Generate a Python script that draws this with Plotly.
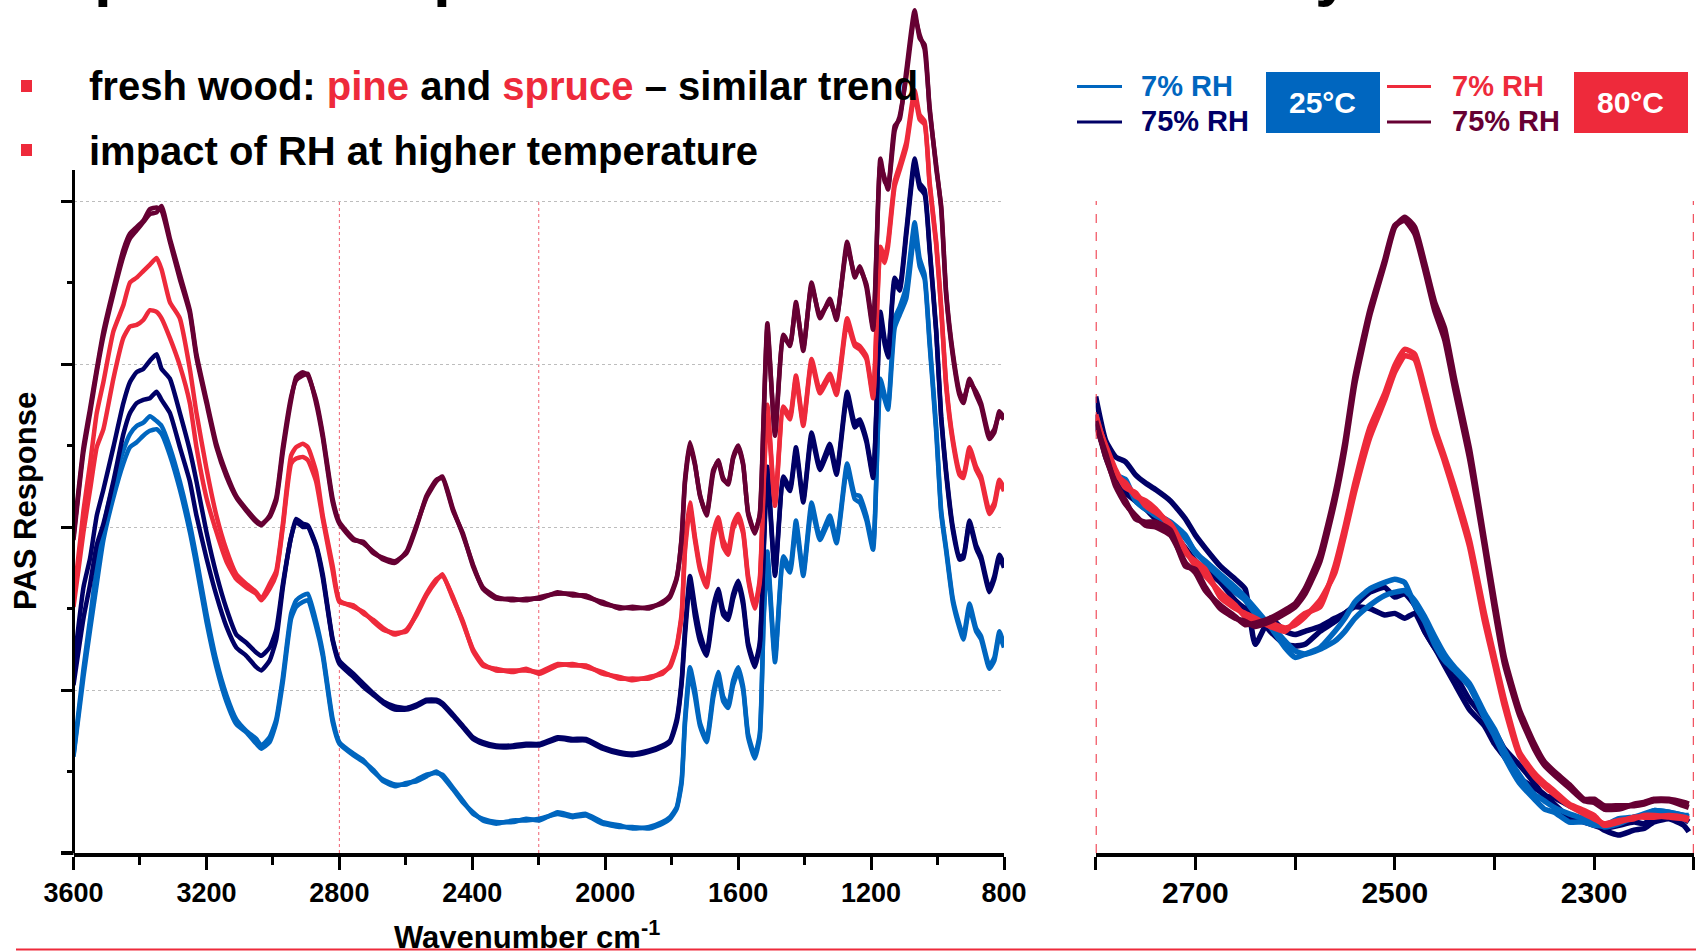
import plotly.graph_objects as go

W, H = 1696, 951

# ---------------- data (arbitrary PAS units) ----------------
wn_left = [3600, 3570, 3550, 3530, 3510, 3480, 3450, 3430, 3410, 3390, 3370, 3350, 3335, 3310, 3280, 3250,
           3230, 3200, 3170, 3140, 3110, 3080, 3050, 3035, 3010, 2990, 2970, 2945, 2930, 2910, 2895, 2870,
           2850, 2820, 2800,
           2758, 2728, 2698, 2668, 2633, 2598, 2568, 2538, 2508, 2490, 2458, 2428, 2398, 2368, 2328, 2278,
           2238, 2198, 2143, 2098, 2058, 2008, 1958, 1918, 1868, 1828,
           1805, 1785, 1770, 1760, 1745, 1730, 1715, 1695, 1675, 1660, 1645, 1630, 1615, 1600, 1585, 1570,
           1550, 1535, 1523, 1512, 1489, 1464, 1444, 1426, 1404, 1379, 1354, 1324, 1304, 1272, 1249, 1234,
           1214, 1194, 1172, 1159, 1149, 1129, 1114, 1094, 1069, 1054, 1039, 1024, 1004, 989, 974, 954,
           934, 922, 904, 884, 869, 844, 829, 814, 800]

maroon_pine = [1.94, 2.49, 2.73, 2.97, 3.20, 3.46, 3.70, 3.80, 3.84, 3.88, 3.95, 3.96, 3.94, 3.75, 3.52, 3.31,
               3.04, 2.76, 2.49, 2.31, 2.18, 2.10, 2.03, 2.01, 2.07, 2.18, 2.49, 2.80, 2.90, 2.93, 2.94, 2.76,
               2.55, 2.15, 2.02,
               1.92, 1.91, 1.84, 1.81, 1.79, 1.84, 2.00, 2.19, 2.29, 2.30, 2.10, 1.96, 1.76, 1.63, 1.57, 1.55,
               1.56, 1.56, 1.60, 1.58, 1.58, 1.53, 1.51, 1.50, 1.51, 1.53,
               1.57, 1.68, 1.94, 2.29, 2.52, 2.39, 2.19, 2.08, 2.35, 2.40, 2.29, 2.27, 2.43, 2.50, 2.39, 2.08,
               1.96, 2.08, 2.70, 3.25, 2.56, 3.18, 3.11, 3.38, 3.08, 3.50, 3.28, 3.40, 3.27, 3.75, 3.53, 3.60,
               3.47, 3.21, 4.26, 4.12, 4.09, 4.46, 4.50, 4.80, 5.17, 5.00, 4.96, 4.56, 4.22, 3.95, 3.42, 3.05,
               2.81, 2.76, 2.91, 2.81, 2.74, 2.54, 2.58, 2.71, 2.67]
maroon_spruce = [1.92, 2.46, 2.70, 2.95, 3.17, 3.43, 3.66, 3.77, 3.82, 3.87, 3.92, 3.93, 3.97, 3.77, 3.55, 3.33,
                 3.06, 2.78, 2.51, 2.33, 2.19, 2.11, 2.04, 2.02, 2.06, 2.16, 2.46, 2.78, 2.92, 2.95, 2.93, 2.78,
                 2.57, 2.17, 2.03,
                 1.93, 1.90, 1.85, 1.80, 1.78, 1.85, 2.01, 2.18, 2.28, 2.31, 2.11, 1.95, 1.77, 1.62, 1.56, 1.56,
                 1.55, 1.57, 1.59, 1.59, 1.57, 1.54, 1.50, 1.51, 1.50, 1.54,
                 1.58, 1.69, 1.93, 2.27, 2.50, 2.38, 2.20, 2.07, 2.33, 2.41, 2.30, 2.26, 2.42, 2.49, 2.38, 2.09,
                 1.97, 2.07, 2.68, 3.22, 2.58, 3.16, 3.12, 3.36, 3.10, 3.48, 3.30, 3.38, 3.29, 3.72, 3.55, 3.58,
                 3.49, 3.23, 4.22, 4.14, 4.07, 4.43, 4.52, 4.76, 5.13, 5.02, 4.93, 4.58, 4.20, 3.97, 3.44, 3.07,
                 2.83, 2.78, 2.89, 2.83, 2.76, 2.56, 2.60, 2.69, 2.66]
red_pine = [1.55, 2.10, 2.39, 2.70, 2.89, 3.20, 3.36, 3.50, 3.53, 3.57, 3.61, 3.65, 3.58, 3.38, 3.28, 2.97,
            2.70, 2.36, 2.07, 1.86, 1.71, 1.65, 1.60, 1.56, 1.65, 1.73, 2.02, 2.44, 2.49, 2.51, 2.49, 2.34,
            2.07, 1.76, 1.55,
            1.51, 1.48, 1.42, 1.37, 1.35, 1.36, 1.47, 1.59, 1.68, 1.70, 1.57, 1.41, 1.25, 1.16, 1.12, 1.12,
            1.12, 1.11, 1.16, 1.15, 1.15, 1.10, 1.08, 1.06, 1.08, 1.10,
            1.15, 1.27, 1.47, 1.88, 2.15, 1.94, 1.76, 1.65, 1.96, 2.06, 1.92, 1.86, 2.02, 2.08, 1.98, 1.70,
            1.51, 1.68, 2.29, 2.75, 2.15, 2.74, 2.68, 2.93, 2.64, 3.03, 2.84, 2.94, 2.83, 3.28, 3.13, 3.11,
            3.05, 2.81, 3.72, 3.65, 3.75, 4.12, 4.22, 4.36, 4.68, 4.53, 4.49, 4.12, 3.75, 3.35, 2.88, 2.54,
            2.34, 2.32, 2.49, 2.37, 2.31, 2.10, 2.15, 2.29, 2.24]
red_spruce = [1.51, 1.97, 2.23, 2.49, 2.60, 2.91, 3.16, 3.23, 3.24, 3.27, 3.33, 3.32, 3.28, 3.16, 2.99, 2.76,
              2.49, 2.18, 1.97, 1.79, 1.68, 1.63, 1.59, 1.55, 1.62, 1.71, 2.00, 2.39, 2.42, 2.43, 2.41, 2.28,
              2.05, 1.73, 1.54,
              1.52, 1.47, 1.43, 1.38, 1.34, 1.37, 1.46, 1.58, 1.67, 1.71, 1.56, 1.42, 1.24, 1.15, 1.13, 1.11,
              1.13, 1.10, 1.15, 1.16, 1.14, 1.11, 1.07, 1.07, 1.07, 1.11,
              1.14, 1.26, 1.45, 1.85, 2.12, 1.92, 1.74, 1.63, 1.92, 2.03, 1.88, 1.83, 1.99, 2.05, 1.96, 1.68,
              1.50, 1.66, 2.26, 2.72, 2.13, 2.72, 2.66, 2.91, 2.62, 3.01, 2.82, 2.92, 2.81, 3.25, 3.11, 3.09,
              3.03, 2.79, 3.69, 3.62, 3.72, 4.09, 4.19, 4.33, 4.65, 4.50, 4.47, 4.10, 3.73, 3.33, 2.86, 2.52,
              2.32, 2.30, 2.47, 2.35, 2.29, 2.08, 2.13, 2.27, 2.22]
navy_pine = [1.13, 1.63, 1.81, 2.07, 2.23, 2.49, 2.76, 2.89, 2.95, 2.97, 3.02, 3.06, 2.97, 2.91, 2.70, 2.47,
             2.28, 1.97, 1.71, 1.50, 1.34, 1.29, 1.23, 1.21, 1.26, 1.37, 1.65, 1.94, 2.05, 2.02, 2.01, 1.89,
             1.71, 1.31, 1.18,
             1.10, 1.04, 0.98, 0.93, 0.90, 0.89, 0.91, 0.94, 0.94, 0.92, 0.85, 0.78, 0.71, 0.68, 0.66, 0.66,
             0.67, 0.67, 0.71, 0.70, 0.70, 0.65, 0.62, 0.61, 0.63, 0.66,
             0.69, 0.82, 1.06, 1.37, 1.70, 1.51, 1.35, 1.23, 1.51, 1.62, 1.49, 1.45, 1.59, 1.67, 1.55, 1.29,
             1.16, 1.29, 1.88, 2.37, 1.72, 2.31, 2.24, 2.49, 2.17, 2.58, 2.37, 2.51, 2.34, 2.83, 2.64, 2.66,
             2.54, 2.32, 3.32, 3.15, 3.06, 3.53, 3.48, 3.82, 4.26, 4.11, 4.07, 3.72, 3.21, 2.68, 2.34, 2.00,
             1.82, 1.83, 2.04, 1.89, 1.82, 1.62, 1.70, 1.83, 1.77]
navy_spruce = [1.03, 1.44, 1.65, 1.89, 2.02, 2.28, 2.57, 2.70, 2.76, 2.78, 2.79, 2.83, 2.78, 2.70, 2.49, 2.28,
               2.07, 1.81, 1.58, 1.39, 1.26, 1.21, 1.14, 1.12, 1.18, 1.31, 1.63, 1.94, 2.03, 2.00, 2.00, 1.88,
               1.69, 1.30, 1.16,
               1.08, 1.02, 0.97, 0.92, 0.88, 0.88, 0.90, 0.93, 0.93, 0.91, 0.84, 0.77, 0.70, 0.67, 0.65, 0.65,
               0.66, 0.66, 0.70, 0.69, 0.69, 0.64, 0.61, 0.60, 0.62, 0.65,
               0.68, 0.80, 1.04, 1.33, 1.66, 1.45, 1.30, 1.21, 1.47, 1.60, 1.46, 1.43, 1.56, 1.65, 1.52, 1.27,
               1.14, 1.27, 1.85, 2.34, 1.70, 2.28, 2.22, 2.46, 2.15, 2.55, 2.35, 2.48, 2.32, 2.80, 2.61, 2.64,
               2.52, 2.30, 3.28, 3.12, 3.04, 3.50, 3.45, 3.79, 4.23, 4.08, 4.04, 3.70, 3.19, 2.66, 2.32, 1.98,
               1.80, 1.81, 2.02, 1.87, 1.80, 1.60, 1.68, 1.81, 1.75]
blue_pine = [0.60, 1.13, 1.44, 1.76, 2.00, 2.26, 2.47, 2.57, 2.62, 2.64, 2.68, 2.65, 2.62, 2.49, 2.28, 2.02,
             1.81, 1.47, 1.18, 0.97, 0.82, 0.75, 0.70, 0.66, 0.71, 0.82, 1.08, 1.47, 1.55, 1.58, 1.59, 1.42,
             1.23, 0.82, 0.68,
             0.61, 0.57, 0.50, 0.45, 0.42, 0.42, 0.45, 0.48, 0.49, 0.48, 0.40, 0.32, 0.24, 0.21, 0.19, 0.19,
             0.21, 0.20, 0.25, 0.23, 0.24, 0.19, 0.17, 0.15, 0.16, 0.19,
             0.22, 0.28, 0.45, 0.82, 1.14, 1.00, 0.80, 0.70, 0.98, 1.11, 0.96, 0.91, 1.06, 1.14, 1.02, 0.73,
             0.60, 0.73, 1.47, 1.85, 1.20, 1.82, 1.75, 2.04, 1.72, 2.15, 1.94, 2.07, 1.92, 2.39, 2.20, 2.19,
             2.07, 1.89, 2.91, 2.81, 2.74, 3.28, 3.35, 3.48, 3.87, 3.65, 3.55, 3.15, 2.61, 2.10, 1.87, 1.56,
             1.40, 1.33, 1.53, 1.38, 1.33, 1.15, 1.20, 1.36, 1.28]
blue_spruce = [0.59, 1.08, 1.37, 1.65, 1.92, 2.18, 2.39, 2.49, 2.52, 2.56, 2.59, 2.60, 2.57, 2.44, 2.23, 1.97,
               1.76, 1.42, 1.14, 0.93, 0.79, 0.74, 0.67, 0.64, 0.68, 0.80, 1.05, 1.44, 1.51, 1.54, 1.55, 1.39,
               1.21, 0.80, 0.67,
               0.60, 0.56, 0.51, 0.44, 0.41, 0.43, 0.44, 0.47, 0.50, 0.47, 0.39, 0.31, 0.25, 0.20, 0.18, 0.20,
               0.20, 0.21, 0.24, 0.22, 0.23, 0.18, 0.16, 0.16, 0.15, 0.18,
               0.21, 0.27, 0.43, 0.79, 1.10, 0.96, 0.78, 0.68, 0.95, 1.08, 0.93, 0.89, 1.03, 1.11, 1.00, 0.71,
               0.58, 0.71, 1.44, 1.80, 1.17, 1.78, 1.72, 2.00, 1.70, 2.11, 1.92, 2.04, 1.90, 2.36, 2.17, 2.15,
               2.04, 1.86, 2.86, 2.78, 2.72, 3.22, 3.30, 3.40, 3.80, 3.60, 3.52, 3.12, 2.58, 2.08, 1.85, 1.54,
               1.38, 1.31, 1.50, 1.36, 1.31, 1.13, 1.18, 1.33, 1.26]

wn_right = [2800, 2790, 2780, 2770, 2760, 2750, 2740, 2725, 2710, 2700, 2690, 2675, 2660, 2650, 2640, 2625,
            2610, 2600, 2590, 2575, 2560, 2550, 2540, 2525, 2510, 2500, 2490, 2480, 2470, 2460, 2450, 2440,
            2425, 2410, 2400, 2390, 2375, 2360, 2350, 2340, 2325, 2310, 2300, 2290, 2275, 2260, 2250, 2240,
            2225, 2210, 2205]

r_maroon_pine = [2.65, 2.43, 2.27, 2.16, 2.05, 2.03, 2.03, 1.98, 1.76, 1.74, 1.63, 1.50, 1.44, 1.42, 1.39, 1.42,
                 1.47, 1.51, 1.59, 1.79, 2.16, 2.48, 2.88, 3.30, 3.62, 3.84, 3.90, 3.84, 3.62, 3.38, 3.22, 2.91,
                 2.48, 1.92, 1.55, 1.20, 0.88, 0.67, 0.56, 0.50, 0.42, 0.33, 0.33, 0.29, 0.29, 0.29, 0.30, 0.32,
                 0.32, 0.29, 0.28]
r_maroon_spruce = [2.63, 2.45, 2.25, 2.14, 2.07, 2.01, 2.00, 1.95, 1.78, 1.72, 1.61, 1.52, 1.45, 1.40, 1.41, 1.44,
                   1.49, 1.53, 1.62, 1.83, 2.20, 2.52, 2.92, 3.33, 3.64, 3.85, 3.88, 3.80, 3.58, 3.33, 3.15, 2.85,
                   2.42, 1.88, 1.50, 1.16, 0.85, 0.64, 0.54, 0.48, 0.40, 0.32, 0.31, 0.27, 0.27, 0.30, 0.31, 0.33,
                   0.33, 0.31, 0.30]
r_red_pine = [2.69, 2.48, 2.32, 2.27, 2.19, 2.16, 2.11, 2.00, 1.84, 1.79, 1.74, 1.57, 1.50, 1.47, 1.44, 1.39,
              1.36, 1.42, 1.47, 1.51, 1.76, 2.00, 2.27, 2.61, 2.82, 2.99, 3.09, 3.06, 2.85, 2.61, 2.43, 2.24,
              1.92, 1.47, 1.20, 0.94, 0.62, 0.49, 0.43, 0.38, 0.30, 0.26, 0.23, 0.17, 0.19, 0.22, 0.22, 0.22,
              0.23, 0.22, 0.21]
r_red_spruce = [2.66, 2.50, 2.35, 2.24, 2.21, 2.13, 2.09, 2.02, 1.86, 1.76, 1.70, 1.60, 1.52, 1.45, 1.42, 1.41,
                1.38, 1.40, 1.45, 1.55, 1.72, 1.96, 2.22, 2.55, 2.78, 2.95, 3.05, 3.03, 2.82, 2.58, 2.40, 2.20,
                1.88, 1.42, 1.16, 0.90, 0.60, 0.47, 0.41, 0.36, 0.29, 0.24, 0.21, 0.18, 0.20, 0.21, 0.23, 0.23,
                0.22, 0.21, 0.20]
r_navy_pine = [2.80, 2.53, 2.43, 2.40, 2.32, 2.27, 2.23, 2.16, 2.05, 1.95, 1.87, 1.76, 1.68, 1.62, 1.28, 1.44,
               1.36, 1.34, 1.36, 1.39, 1.44, 1.47, 1.51, 1.50, 1.46, 1.47, 1.44, 1.47, 1.36, 1.26, 1.18, 1.10,
               0.94, 0.83, 0.75, 0.64, 0.54, 0.43, 0.35, 0.34, 0.29, 0.25, 0.19, 0.14, 0.11, 0.14, 0.15, 0.19,
               0.21, 0.17, 0.13]
r_navy_spruce = [2.69, 2.43, 2.29, 2.21, 2.16, 2.11, 2.05, 1.98, 1.87, 1.79, 1.74, 1.66, 1.55, 1.50, 1.47, 1.36,
                 1.28, 1.27, 1.28, 1.36, 1.42, 1.47, 1.52, 1.60, 1.63, 1.57, 1.59, 1.52, 1.36, 1.26, 1.15, 1.04,
                 0.88, 0.78, 0.67, 0.59, 0.46, 0.40, 0.36, 0.30, 0.22, 0.19, 0.17, 0.15, 0.17, 0.19, 0.18, 0.22,
                 0.23, 0.21, 0.19]
r_blue_pine = [2.69, 2.48, 2.32, 2.29, 2.16, 2.11, 2.08, 2.03, 1.95, 1.84, 1.79, 1.71, 1.63, 1.57, 1.50, 1.39,
               1.26, 1.20, 1.22, 1.26, 1.36, 1.44, 1.54, 1.62, 1.66, 1.68, 1.66, 1.52, 1.42, 1.28, 1.18, 1.12,
               1.02, 0.83, 0.72, 0.59, 0.43, 0.33, 0.27, 0.25, 0.19, 0.19, 0.17, 0.17, 0.21, 0.22, 0.23, 0.26,
               0.25, 0.23, 0.23]
r_blue_spruce = [2.64, 2.45, 2.33, 2.27, 2.18, 2.12, 2.07, 2.02, 1.93, 1.85, 1.78, 1.69, 1.60, 1.55, 1.47, 1.40,
                 1.30, 1.24, 1.22, 1.25, 1.30, 1.36, 1.44, 1.52, 1.58, 1.60, 1.61, 1.55, 1.45, 1.33, 1.22, 1.14,
                 1.04, 0.86, 0.76, 0.63, 0.48, 0.36, 0.32, 0.28, 0.24, 0.21, 0.19, 0.16, 0.18, 0.22, 0.24, 0.26,
                 0.25, 0.23, 0.22]

left_ticks = [3600, 3200, 2800, 2400, 2000, 1600, 1200, 800]
left_minor = [3400, 3000, 2600, 2200, 1800, 1400, 1000]
right_ticks = [2800, 2700, 2600, 2500, 2400, 2300, 2200]
right_ticktext = [" ", "2700", " ", "2500", " ", "2300", " "]
marker_lines = [2800, 2200]

for arr in [maroon_pine, maroon_spruce, red_pine, red_spruce, navy_pine, navy_spruce, blue_pine, blue_spruce]:
    assert len(arr) == len(wn_left), len(arr)
for arr in [r_maroon_pine, r_maroon_spruce, r_red_pine, r_red_spruce, r_navy_pine, r_navy_spruce,
            r_blue_pine, r_blue_spruce]:
    assert len(arr) == len(wn_right), len(arr)

# ---------------- style ----------------
BLUE = "#0066BF"
NAVY = "#000066"
RED = "#EE2A3B"
MAROON = "#660033"
FONT = "Liberation Sans, Arial, Helvetica, sans-serif"


def px(x):
    return x / W


def py(y):
    return 1 - y / H


X0, X1 = 73.5, 1004.0        # left plot horizontal extent (px)
XR0, XR1 = 1095.7, 1693.8    # right plot horizontal extent (px)
YBOT = 853.0                 # x-axis line (px)
UNIT = 163.0                 # px per response unit
YMAX = YBOT / UNIT

fig = go.Figure()

left_series = [
    ("pine 25°C 7% RH", blue_pine, BLUE), ("spruce 25°C 7% RH", blue_spruce, BLUE),
    ("pine 25°C 75% RH", navy_pine, NAVY), ("spruce 25°C 75% RH", navy_spruce, NAVY),
    ("pine 80°C 7% RH", red_pine, RED), ("spruce 80°C 7% RH", red_spruce, RED),
    ("pine 80°C 75% RH", maroon_pine, MAROON), ("spruce 80°C 75% RH", maroon_spruce, MAROON),
]
for name, ys, col in left_series:
    fig.add_trace(go.Scatter(x=wn_left, y=ys, name=name, mode="lines",
                             line=dict(color=col, width=4.5, shape="spline", smoothing=0.5),
                             xaxis="x", yaxis="y", showlegend=False, hoverinfo="skip"))

right_series = [
    ("pine 25°C 75% RH", r_navy_pine, NAVY), ("spruce 25°C 75% RH", r_navy_spruce, NAVY),
    ("pine 25°C 7% RH", r_blue_pine, BLUE), ("spruce 25°C 7% RH", r_blue_spruce, BLUE),
    ("pine 80°C 7% RH", r_red_pine, RED), ("spruce 80°C 7% RH", r_red_spruce, RED),
    ("pine 80°C 75% RH", r_maroon_pine, MAROON), ("spruce 80°C 75% RH", r_maroon_spruce, MAROON),
]
for name, ys, col in right_series:
    fig.add_trace(go.Scatter(x=wn_right, y=ys, name=name, mode="lines",
                             line=dict(color=col, width=5.5, shape="spline", smoothing=0.5),
                             xaxis="x2", yaxis="y2", showlegend=False, hoverinfo="skip"))

shapes = []
shapes.append(dict(type="line", xref="paper", yref="y", x0=px(X0), x1=px(X0), y0=0, y1=4.19,
                   line=dict(color="black", width=3)))
shapes.append(dict(type="line", xref="paper", yref="paper", x0=px(61), x1=px(X0), y0=py(YBOT), y1=py(YBOT),
                   line=dict(color="black", width=4)))
for v in marker_lines:
    shapes.append(dict(type="line", xref="x", yref="y", x0=v, x1=v, y0=0, y1=4, layer="below",
                       line=dict(color="#F06070", width=1, dash="dot")))
    shapes.append(dict(type="line", xref="x2", yref="y2", x0=v, x1=v, y0=0, y1=4,
                       line=dict(color=RED, width=2, dash="dash")))
for (ya, yb) in [(80, 92), (144, 156)]:
    shapes.append(dict(type="rect", xref="paper", yref="paper", x0=px(21), x1=px(32), y0=py(yb), y1=py(ya),
                       fillcolor=RED, line=dict(width=0)))
for (xa, xb, y, col) in [(1077, 1122, 86.5, BLUE), (1077, 1122, 122, NAVY),
                         (1387, 1431, 86.5, RED), (1387, 1431, 122, MAROON)]:
    shapes.append(dict(type="line", xref="paper", yref="paper", x0=px(xa), x1=px(xb), y0=py(y), y1=py(y),
                       line=dict(color=col, width=3)))
for (xa, xb, col) in [(1266, 1380, BLUE), (1574, 1688, RED)]:
    shapes.append(dict(type="rect", xref="paper", yref="paper", x0=px(xa), x1=px(xb), y0=py(133), y1=py(72),
                       fillcolor=col, line=dict(width=0)))
shapes.append(dict(type="line", xref="paper", yref="paper", x0=px(16), x1=1, y0=py(949.5), y1=py(949.5),
                   line=dict(color=RED, width=2)))

ann = []


def text(x, y, s, size, color="black", xanchor="left", yanchor="middle", angle=0):
    ann.append(dict(x=px(x), y=py(y), xref="paper", yref="paper", text=s, showarrow=False,
                    xanchor=xanchor, yanchor=yanchor, textangle=angle,
                    font=dict(family=FONT, size=size, color=color)))


# cut-off slide title (only descenders visible)
text(91.5, 10, "<b>p</b>", 64, yanchor="bottom")
text(431, 10, "<b>p</b>", 64, yanchor="bottom")
text(1313, 10, "<b>y</b>", 64, yanchor="bottom")

text(86.5, 86, "<b>fresh wood: <span style='color:%s'>pine</span> and "
               "<span style='color:%s'>spruce</span> – similar trend</b>" % (RED, RED), 40)
text(86.5, 151, "<b>impact of RH at higher temperature</b>", 40)

text(1139, 86, "<b>7% RH</b>", 29, BLUE)
text(1139, 121, "<b>75% RH</b>", 29, NAVY)
text(1450, 86, "<b>7% RH</b>", 29, RED)
text(1450, 121, "<b>75% RH</b>", 29, MAROON)
text(1322, 102.5, "<b>25°C</b>", 30, "white", xanchor="center")
text(1630, 102.5, "<b>80°C</b>", 30, "white", xanchor="center")

text(527, 935, "<b>Wavenumber cm<sup>-1</sup></b>", 31, xanchor="center")
text(25, 501, "<b>PAS Response</b>", 31, xanchor="center", angle=-90)

axis_common = dict(showline=True, linecolor="black", linewidth=4, ticks="outside", ticklen=13,
                   tickwidth=3, tickcolor="black", showgrid=False, zeroline=False, automargin=False)

fig.update_layout(
    width=W, height=H, margin=dict(l=0, r=0, t=0, b=0, pad=0, autoexpand=False),
    paper_bgcolor="white", plot_bgcolor="white", showlegend=False,
    font=dict(family=FONT, color="black"),
    xaxis=dict(domain=[px(X0), px(X1)], range=[3600, 800], anchor="y",
               tickmode="array", tickvals=left_ticks,
               tickfont=dict(family=FONT, size=27, color="black", weight="bold"),
               minor=dict(tickmode="array", tickvals=left_minor, ticks="outside", ticklen=8,
                          tickwidth=3, tickcolor="black", showgrid=False),
               **axis_common),
    yaxis=dict(domain=[py(YBOT), 1], range=[0, YMAX], anchor="x", showline=False, automargin=False,
               showticklabels=False, ticks="outside", ticklen=12, tickwidth=2.5, tickcolor="black",
               tickmode="array", tickvals=[1, 2, 3, 4], zeroline=False,
               showgrid=True, gridcolor="#BDBDBD", griddash="dot", gridwidth=1,
               minor=dict(tickmode="array", tickvals=[0.5, 1.5, 2.5, 3.5], ticks="outside", ticklen=6,
                          tickwidth=2.5, tickcolor="black", showgrid=False)),
    xaxis2=dict(domain=[px(XR0), px(XR1)], range=[2800, 2200], anchor="y2",
                tickmode="array", tickvals=right_ticks, ticktext=right_ticktext,
                ticklabelstandoff=-3,
                tickfont=dict(family=FONT, size=30, color="black", weight="bold"),
                **axis_common),
    yaxis2=dict(domain=[py(YBOT), 1], range=[0, YMAX], anchor="x2", visible=False, automargin=False),
    shapes=shapes, annotations=ann,
)

fig.write_html("out.html")
